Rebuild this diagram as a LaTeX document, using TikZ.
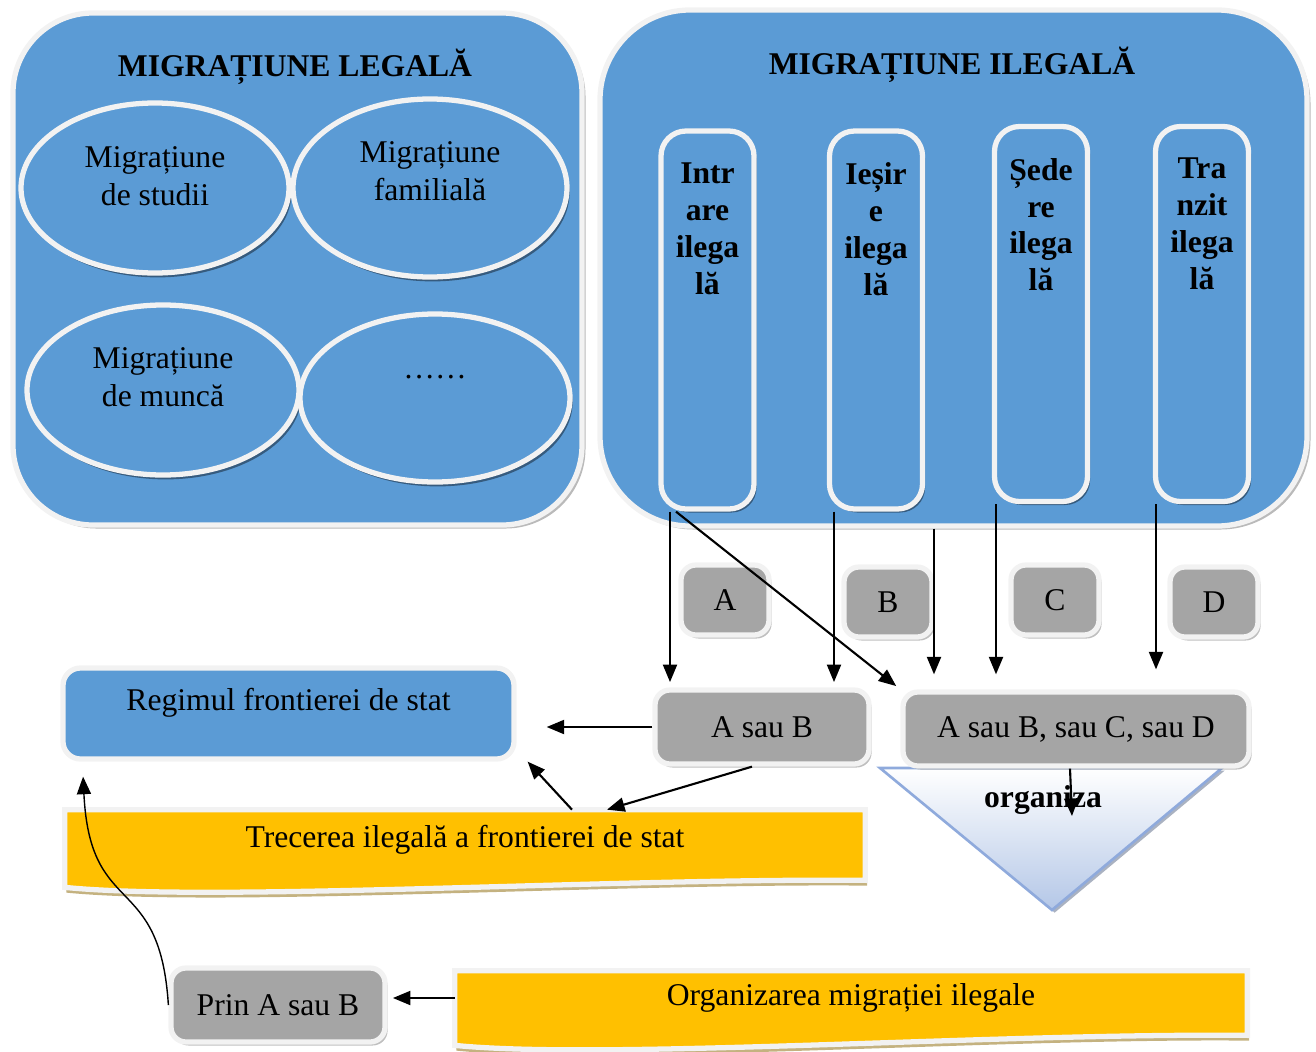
\documentclass[tikz,border=0pt]{standalone}
\usepackage{fontspec}
\setmainfont{Liberation Serif}
\usepackage{tikz}
\usetikzlibrary{positioning,arrows.meta,shapes.geometric,shadows,backgrounds}
\usepackage{xcolor}
\definecolor{migblue}{RGB}{91,155,213}
\definecolor{edgewhite}{RGB}{242,242,242}
\definecolor{boxgrey}{RGB}{165,165,165}
\definecolor{docyellow}{RGB}{255,192,0}
\definecolor{doctan}{RGB}{196,178,128}
\definecolor{triedge}{RGB}{143,170,220}
\definecolor{trifill}{RGB}{180,199,231}

\begin{document}
\begin{tikzpicture}[
  bigbox/.style={rectangle,rounded corners=1.6cm,draw=edgewhite,line width=3pt,fill=migblue,
    drop shadow={shadow xshift=2pt,shadow yshift=-2pt,fill=black!45,opacity=.6}},
  oval/.style={ellipse,draw=edgewhite,line width=3pt,fill=migblue,
    drop shadow={shadow xshift=1.5pt,shadow yshift=-2.5pt,fill=migblue!55!black,opacity=.9}},
  colbox/.style={rectangle,rounded corners=0.5cm,draw=edgewhite,line width=3pt,fill=migblue,
    minimum width=1.86cm,
    drop shadow={shadow xshift=1.5pt,shadow yshift=-2pt,fill=migblue!55!black,opacity=.9}},
  greybox/.style={rectangle,rounded corners=0.3cm,draw=edgewhite,line width=3pt,fill=boxgrey,
    font=\fontsize{18}{21}\selectfont,
    drop shadow={shadow xshift=1.5pt,shadow yshift=-2pt,fill=black!50,opacity=.5}},
  doc/.style={fill=docyellow,draw=edgewhite,line width=3pt,
    drop shadow={shadow xshift=1pt,shadow yshift=-3pt,fill=doctan,opacity=1}},
  txt/.style={font=\fontsize{18}{21.5}\selectfont,align=center},
  head/.style={font=\bfseries\fontsize{18}{21}\selectfont},
  coltext/.style={font=\bfseries\fontsize{18}{21}\selectfont,align=center,inner sep=0pt},
  arr/.style={-{Triangle[length=10pt,width=8pt]},black,line width=1.2pt}
]
\useasboundingbox (0,0) rectangle (26.32,-21.04);

\node[bigbox,minimum width=11.38cm,minimum height=10.24cm] (leg) at (5.95,-5.38) {};
\node[bigbox,rounded corners=1.8cm,minimum width=14.14cm,minimum height=10.32cm] (ileg) at (19.07,-5.36) {};
\node[head] (legt) at (5.9,-1.34) {MIGRAȚIUNE LEGALĂ};
\node[head] (ilegt) at (19.04,-1.3) {MIGRAȚIUNE ILEGALĂ};

% legal forms
\node[oval,minimum width=5.36cm,minimum height=3.4cm] (st) at (3.1,-3.76) {};
\node[oval,minimum width=5.48cm,minimum height=3.56cm] (fam) at (8.6,-3.76) {};
\node[oval,minimum width=5.44cm,minimum height=3.4cm] (mun) at (3.26,-7.8) {};
\node[oval,minimum width=5.4cm,minimum height=3.36cm] (alte) at (8.7,-7.96) {};
\node[txt] (stt) at ([yshift=0.24cm]st.center) {Migrațiune\\de studii};
\node[txt] (famt) at ([yshift=0.34cm]fam.center) {Migrațiune\\familială};
\node[txt] (munt) at ([yshift=0.26cm]mun.center) {Migrațiune\\de muncă};
\node[txt] (altet) at ([yshift=0.42cm]alte.center) {……};

% illegal forms
\node[colbox,minimum height=7.56cm] (intr) at (14.15,-6.4) {};
\node[colbox,minimum height=7.56cm] (ies) at (17.52,-6.4) {};
\node[colbox,minimum height=7.5cm] (sed) at (20.82,-6.28) {};
\node[colbox,minimum height=7.5cm] (tranz) at (24.04,-6.28) {};
\node[coltext,below=0.68cm of intr.north] (intrt) {Intr\\are\\ilega\\lă};
\node[coltext,below=0.68cm of ies.north] (iest) {Ieșir\\e\\ilega\\lă};
\node[coltext,below=0.68cm of sed.north] (sedt) {Șede\\re\\ilega\\lă};
\node[coltext,below=0.68cm of tranz.north] (tranzt) {Tra\\nzit\\ilega\\lă};

\node[greybox,minimum width=1.76cm,minimum height=1.4cm] (la) at (14.5,-12.0) {A};
\node[greybox,minimum width=1.76cm,minimum height=1.4cm] (lb) at (17.76,-12.04) {B};
\node[greybox,minimum width=1.76cm,minimum height=1.4cm] (lc) at (21.1,-12.0) {C};
\node[greybox,minimum width=1.76cm,minimum height=1.4cm] (ld) at (24.28,-12.04) {D};

% the organiza funnel
\coordinate (tl) at (17.6,-15.36);
\coordinate (tr) at (24.44,-15.36);
\coordinate (tb) at (21.04,-18.2);
\coordinate (orgtip) at (21.44,-16.32);
\shade[top color=white,bottom color=trifill,draw=triedge,line width=1.5pt,
  drop shadow={shadow xshift=1.5pt,shadow yshift=-1.5pt,fill=triedge!60!black,opacity=.5}]
  (tl) -- (tr) -- (tb) -- cycle;
\node[head] (orgt) at (20.86,-16.0) {organiza};

\node[greybox,minimum width=4.28cm,minimum height=1.48cm] (asb) at (15.24,-14.54) {A sau B};
\node[greybox,minimum width=6.92cm,minimum height=1.48cm] (abcd) at (21.52,-14.58) {A sau B, sau C, sau D};
\node[rectangle,rounded corners=0.35cm,draw=edgewhite,line width=3pt,fill=migblue,
  minimum width=9.02cm,minimum height=1.82cm] (reg) at (5.77,-14.27) {};
\node[txt] (regt) at ([yshift=0.22cm]reg.center) {Regimul frontierei de stat};

\node[txt,minimum width=16cm,minimum height=1.2cm] (trec) at (9.3,-16.8) {Trecerea ilegală a frontierei de stat};
\node[txt,minimum width=15.84cm,minimum height=1.08cm] (org) at (17.02,-19.96) {Organizarea migrației ilegale};
\node[greybox,minimum width=4.28cm,minimum height=1.48cm] (prin) at (5.56,-20.1) {Prin A sau B};
\begin{scope}[on background layer]
\path[doc] (trec.north west) -- (trec.north east) -- ([yshift=-0.2cm]trec.south east)
  .. controls +(-5,0.05) and +(3,-0.3) .. ([yshift=-0.34cm]trec.south west) -- cycle;
\path[doc] (org.north west) -- (org.north east) -- ([yshift=-0.2cm]org.south east)
  .. controls +(-5,0.05) and +(3,-0.3) .. ([yshift=-0.4cm]org.south west) -- cycle;
\end{scope}

\draw[arr,shorten >=3pt] ([xshift=-0.75cm]intr.south) -- ([xshift=-0.75cm]intr.south |- asb.north);
\draw[arr,shorten >=3pt] ([xshift=-0.63cm]intr.south) -- (abcd.north west);
\draw[arr,shorten >=3pt] ([xshift=-0.84cm]ies.south) -- ([xshift=-0.84cm]ies.south |- asb.north);
\draw[arr,shorten >=0.3cm] ([xshift=-0.39cm]ileg.south) -- ([xshift=-0.39cm]ileg.south |- abcd.north);
\draw[arr,shorten >=0.3cm] ([xshift=-0.9cm]sed.south) -- ([xshift=-0.9cm]sed.south |- abcd.north);
\draw[arr,shorten >=0.4cm] ([xshift=-0.92cm]tranz.south) -- ([xshift=-0.92cm]tranz.south |- abcd.north);
\draw[arr,shorten >=0.6cm] (asb.west) -- (asb.west -| reg.east);
\draw[arr] ([xshift=-0.2cm]asb.south) -- ([xshift=2.84cm]trec.north);
\draw[arr] ([xshift=2.14cm]trec.north) -- ([xshift=0.22cm]reg.south east);
\draw[arr] ([xshift=-0.12cm]abcd.south) -- (orgtip);
\draw[arr,shorten >=3pt] (org.west) -- (org.west -| prin.east);
\draw[arr,line width=0.8pt,shorten >=0.3cm] (prin.west) .. controls (3.2,-17.4) and (1.8,-18.4) .. ([xshift=0.44cm]reg.south west);
\end{tikzpicture}
\end{document}
